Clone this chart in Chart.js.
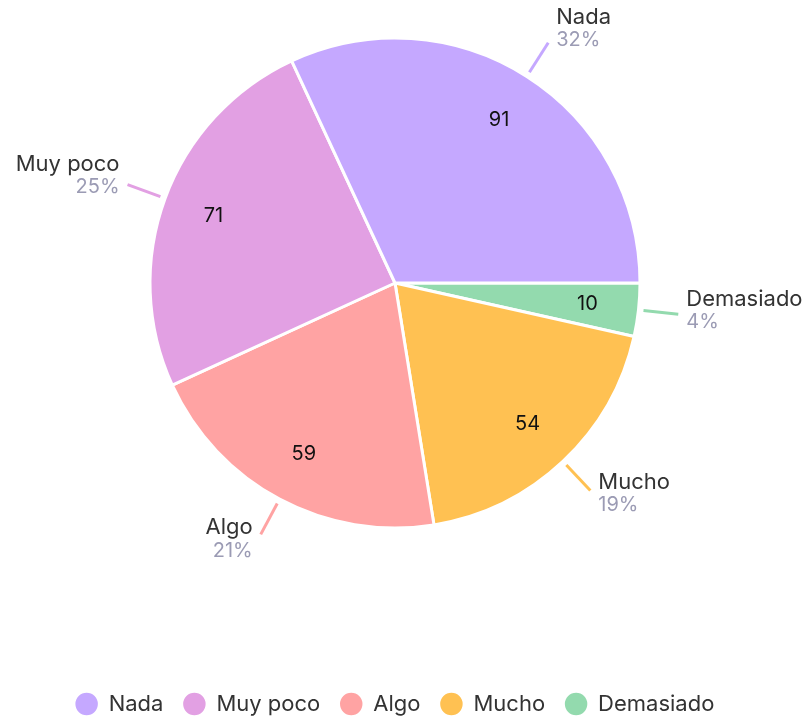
<!DOCTYPE html>
<html>
<head>
<meta charset="utf-8">
<script src="https://cdn.jsdelivr.net/npm/chart.js@4"></script>
<style>
  body { margin: 0; background: #fff; }
  .chart-box { width: 810px; height: 725px; position: relative; }
</style>
</head>
<body>
<div class="chart-box"><canvas id="myChart"></canvas></div>
<script>
const categories = ['Nada', 'Muy poco', 'Algo', 'Mucho', 'Demasiado'];
const counts = [91, 71, 59, 54, 10];
const colors = ['#C5A8FF', '#E2A0E3', '#FFA3A3', '#FFC152', '#93DAAE'];

const total = counts.reduce((a, b) => a + b, 0);
// slices run counter-clockwise from 3 o'clock in the original, so feed them reversed
// and reverse the legend back
const labelsRev = categories.slice().reverse();
const countsRev = counts.slice().reverse();
const colorsRev = colors.slice().reverse();

const ctx = document.getElementById('myChart').getContext('2d');

// values inside the slices + outside labels with connector lines
const sliceLabels = {
  id: 'sliceLabels',
  afterDatasetsDraw(chart) {
    const c = chart.ctx;
    const arcs = chart.getDatasetMeta(0).data;
    arcs.forEach((arc, i) => {
      const { x, y, startAngle, endAngle, outerRadius } = arc.getProps(['x', 'y', 'startAngle', 'endAngle', 'outerRadius'], true);
      const mid = (startAngle + endAngle) / 2;
      const ux = Math.cos(mid);
      const uy = Math.sin(mid);

      c.save();
      // value inside
      c.fillStyle = '#111';
      c.font = '20px Inter';
      c.textAlign = 'center';
      c.textBaseline = 'middle';
      const rIn = outerRadius * 0.79;
      c.fillText(countsRev[i], x + ux * rIn, y + uy * rIn);

      // connector line
      const r1 = outerRadius + 5, r2 = outerRadius + 40;
      const ex = x + ux * r2, ey = y + uy * r2;
      c.strokeStyle = colorsRev[i];
      c.lineWidth = 3;
      c.beginPath();
      c.moveTo(x + ux * r1, y + uy * r1);
      c.lineTo(ex, ey);
      c.stroke();

      // name + percentage
      const right = ux >= 0;
      const tx = ex + (right ? 8 : -8);
      const mY = ey - 5 + 11 * uy;
      c.textAlign = right ? 'left' : 'right';
      c.fillStyle = '#333';
      c.font = '22px Inter';
      c.fillText(labelsRev[i], tx, mY - 11.5);
      c.fillStyle = '#9B9BB4';
      c.font = '20px Inter';
      c.fillText(Math.round(countsRev[i] / total * 100) + '%', tx, mY + 11.5);
      c.restore();
    });
  }
};

new Chart(ctx, {
  type: 'pie',
  data: {
    labels: labelsRev,
    datasets: [{
      data: countsRev,
      backgroundColor: colorsRev,
      borderColor: '#fff',
      borderWidth: 3,
      radius: 245
    }]
  },
  options: {
    responsive: true,
    maintainAspectRatio: false,
    animation: false,
    rotation: 90,
    layout: { padding: { top: 30, right: 20, left: 0, bottom: 0 } },
    plugins: {
      tooltip: { enabled: false },
      // empty title used as spacer between pie and legend
      title: {
        display: true,
        position: 'bottom',
        weight: 500,
        text: '',
        font: { size: 10, lineHeight: 1 },
        padding: { top: 127, bottom: 0 }
      },
      legend: {
        position: 'bottom',
        reverse: true,
        labels: {
          usePointStyle: true,
          pointStyle: 'circle',
          boxWidth: 22,
          boxHeight: 18,
          padding: 20,
          color: '#333',
          font: { family: 'Inter', size: 22 }
        }
      }
    }
  },
  plugins: [sliceLabels]
});
</script>
</body>
</html>
